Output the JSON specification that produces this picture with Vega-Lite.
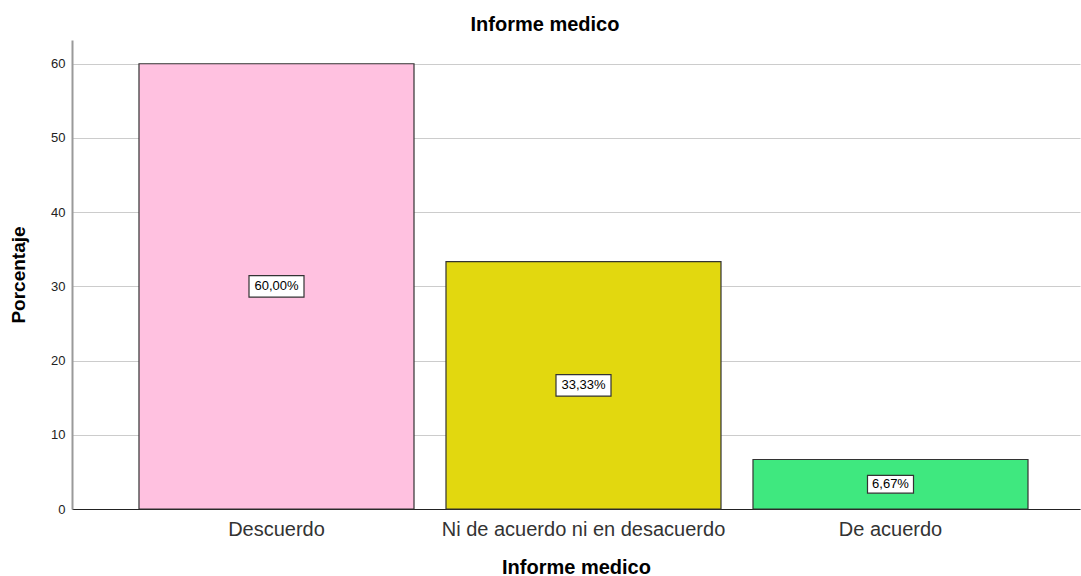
{
  "$schema": "https://vega.github.io/schema/vega-lite/v6.json",
  "width": 1008,
  "height": 469,
  "autosize": "none",
  "padding": {"left": 72, "top": 40, "right": 1, "bottom": 67},
  "background": "white",
  "config": {
    "view": {"stroke": null},
    "font": "Liberation Sans"
  },
  "title": {
    "text": "Informe medico",
    "font": "Liberation Sans",
    "fontSize": 20,
    "fontWeight": "bold",
    "color": "#000000",
    "anchor": "middle",
    "dx": -31,
    "offset": 5
  },
  "data": {
    "values": [
      {"cat": "Descuerdo", "value": 60.0, "label": "60,00%"},
      {"cat": "Ni de acuerdo ni en desacuerdo", "value": 33.33, "label": "33,33%"},
      {"cat": "De acuerdo", "value": 6.67, "label": "6,67%"}
    ]
  },
  "transform": [{"calculate": "datum.value / 2", "as": "mid"}],
  "encoding": {
    "x": {
      "field": "cat",
      "type": "nominal",
      "sort": null,
      "scale": {"paddingInner": 0.1042, "paddingOuter": 0.1938, "align": 0.563},
      "axis": {
        "title": "Informe medico",
        "titleFont": "Liberation Sans",
        "titleFontSize": 20,
        "titleFontWeight": "bold",
        "titleColor": "#000000",
        "titlePadding": 18,
        "labelAngle": 0,
        "labelFontSize": 20,
        "labelLimit": 0,
        "labelColor": "#333333",
        "labelPadding": 10,
        "ticks": false,
        "domainColor": "#222222",
        "domainWidth": 1,
        "grid": false
      }
    }
  },
  "layer": [
    {
      "mark": {"type": "bar", "stroke": "#333333", "strokeWidth": 1.2},
      "encoding": {
        "y": {
          "field": "value",
          "type": "quantitative",
          "scale": {"domain": [0, 63.2], "nice": false},
          "axis": {
            "title": "Porcentaje",
            "titleFont": "Liberation Sans",
            "titleFontSize": 19,
            "titleFontWeight": "bold",
            "titleColor": "#000000",
            "titlePadding": 22,
            "values": [0, 10, 20, 30, 40, 50, 60],
            "labelFontSize": 13,
            "labelColor": "#222222",
            "labelPadding": 7,
            "ticks": false,
            "domainColor": "#9a9a9a",
            "domainWidth": 2,
            "grid": true,
            "gridColor": "#cccccc",
            "gridWidth": 1.2
          }
        },
        "color": {
          "field": "cat",
          "type": "nominal",
          "sort": null,
          "scale": {"range": ["#ffc1e0", "#e2d80f", "#3fe87f"]},
          "legend": null
        }
      }
    },
    {
      "mark": {
        "type": "point",
        "shape": "M-1,-0.39H1V0.39H-1Z",
        "filled": true,
        "fill": "white",
        "stroke": "#333333",
        "strokeWidth": 1.2,
        "opacity": 1
      },
      "encoding": {
        "y": {"field": "mid", "type": "quantitative"},
        "size": {
          "condition": {"test": "datum.value < 10", "value": 2116},
          "value": 3025
        }
      }
    },
    {
      "mark": {
        "type": "text",
        "fontSize": 13,
        "color": "#000000",
        "font": "Liberation Sans",
        "baseline": "middle",
        "align": "center"
      },
      "encoding": {
        "y": {"field": "mid", "type": "quantitative"},
        "text": {"field": "label"}
      }
    }
  ]
}
